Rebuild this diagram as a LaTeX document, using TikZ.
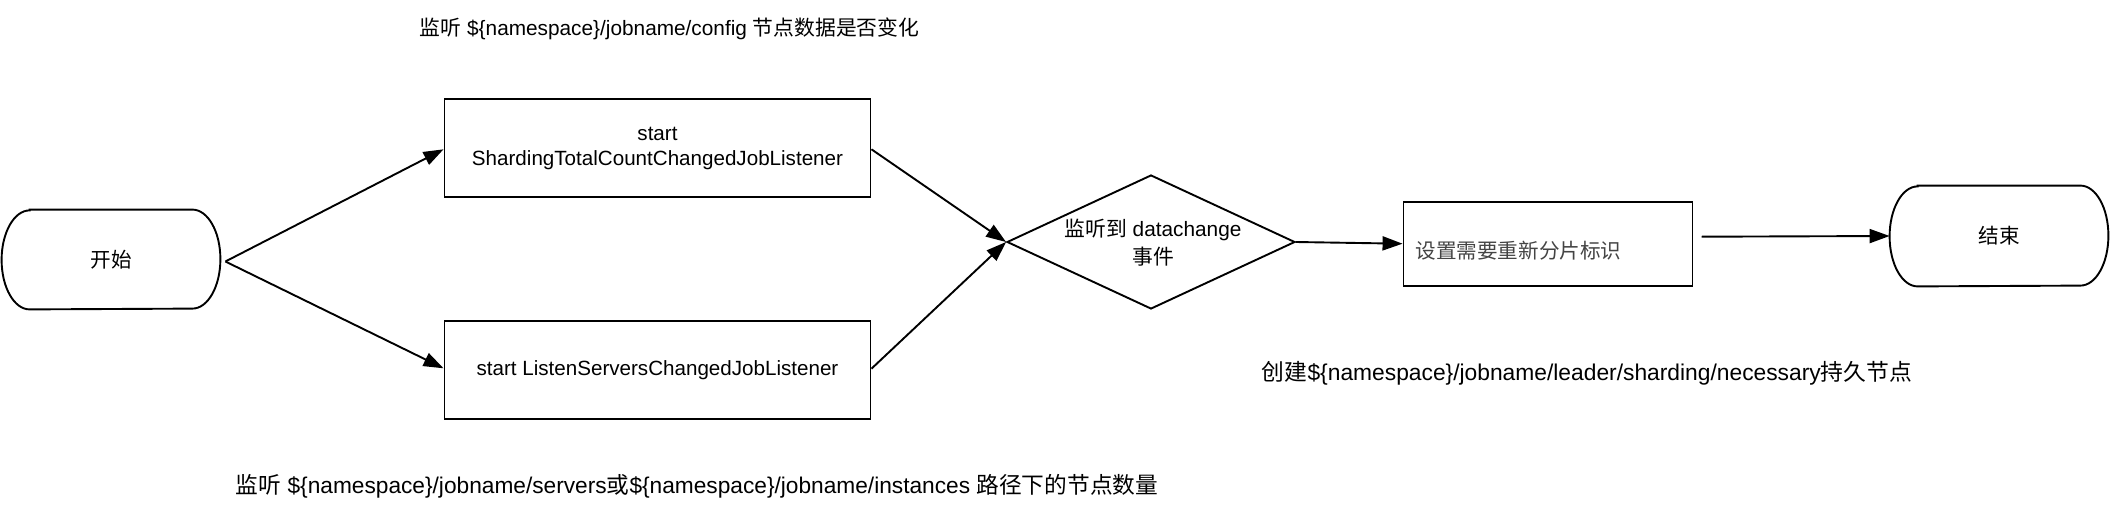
\documentclass[tikz,border=0pt]{standalone}
\usepackage{fontspec}
\setmainfont{Liberation Sans}
\newfontfamily\cjk{Noto Sans CJK SC}
\usetikzlibrary{shapes.geometric,arrows.meta}
\newcommand{\zh}[1]{{\cjk #1}}
\definecolor{txtgray}{HTML}{444444}
\tikzset{
  px/.style={x=0.5pt,y=-0.5pt},
  boxnode/.style={draw,line width=0.95pt,minimum width=213pt,minimum height=49pt,inner sep=0pt,align=center,font=\fontsize{10.3}{12.5}\selectfont},
  termnode/.style={minimum width=109pt,minimum height=49.5pt,inner sep=0pt,font=\fontsize{10.3}{12.5}\selectfont},
  dianode/.style={draw,line width=0.95pt,shape=diamond,minimum width=144pt,minimum height=67pt,inner sep=0pt},
  freetext/.style={inner sep=0pt,font=\fontsize{#1}{13}\selectfont},
  conn/.style={line width=0.95pt,-{Triangle[length=10pt,width=7pt]}},
  termline/.style={line width=0.95pt}
}
\begin{document}
\begin{tikzpicture}[px]
\useasboundingbox (0,0) rectangle (2110,514);
% nodes
\node[termnode] (start) at (111,259.5) {\zh{开始}};
\node[termnode,minimum height=50pt] (end) at (1999,236) {\zh{结束}};
\draw[termline] ([xshift=14pt]start.north west) -- ([xshift=-14pt]start.north east)
  arc[start angle=90,end angle=-90,x radius=14pt,y radius=24.75pt]
  -- ([xshift=14pt]start.south west)
  arc[start angle=270,end angle=90,x radius=14pt,y radius=24.75pt] -- cycle;
\draw[termline] ([xshift=14pt]end.north west) -- ([xshift=-14pt]end.north east)
  arc[start angle=90,end angle=-90,x radius=14pt,y radius=25pt]
  -- ([xshift=14pt]end.south west)
  arc[start angle=270,end angle=90,x radius=14pt,y radius=25pt] -- cycle;
\node[boxnode] (b1) at (657.5,148.3) {start\\ShardingTotalCountChangedJobListener};
\node[boxnode] (b2) at (657.5,369.7) {start ListenServersChangedJobListener};
\node[dianode] (dia) at (1151,242) {};
\node[align=center,inner sep=0pt,font=\fontsize{10.4}{14.3}\selectfont] (dtext) at (1153,242.5) {\zh{监听到} datachange\\\zh{事件}};
\node[draw,line width=0.95pt,minimum width=144.5pt,minimum height=42pt,inner sep=0pt] (b3) at (1548,243.7) {};
\node[anchor=west,inner sep=0pt,text=txtgray,font=\fontsize{10.3}{12.5}\selectfont] (b3text) at (1415,251) {\zh{设置需要重新分片标识}};
\coordinate (b3out) at (1701.5,236.7);
% free texts
\node[freetext=10.4] (t1) at (669.5,29) {\zh{监听} \$\{namespace\}/jobname/config \zh{节点数据是否变化}};
\node[freetext=11.35] (t2) at (697,486) {\zh{监听} \$\{namespace\}/jobname/servers\zh{或}\$\{namespace\}/jobname/instances \zh{路径下的节点数量}};
\node[freetext=11.4] (t3) at (1587,373) {\zh{创建}\$\{namespace\}/jobname/leader/sharding/necessary\zh{持久节点}};
% connectors
\draw[conn] ([xshift=2.5pt,yshift=-1pt]start.east) -- ([yshift=-0.5pt]b1.west);
\draw[conn] ([xshift=2.5pt,yshift=-1pt]start.east) -- ([yshift=0.7pt]b2.west);
\draw[conn] ([yshift=-0.5pt]b1.east) -- (dia.west);
\draw[conn] ([yshift=0.5pt]b2.east) -- (dia.west);
\draw[conn] (dia.east) -- (b3.west);
\draw[conn] (b3out) -- (end.west);
\end{tikzpicture}
\end{document}
